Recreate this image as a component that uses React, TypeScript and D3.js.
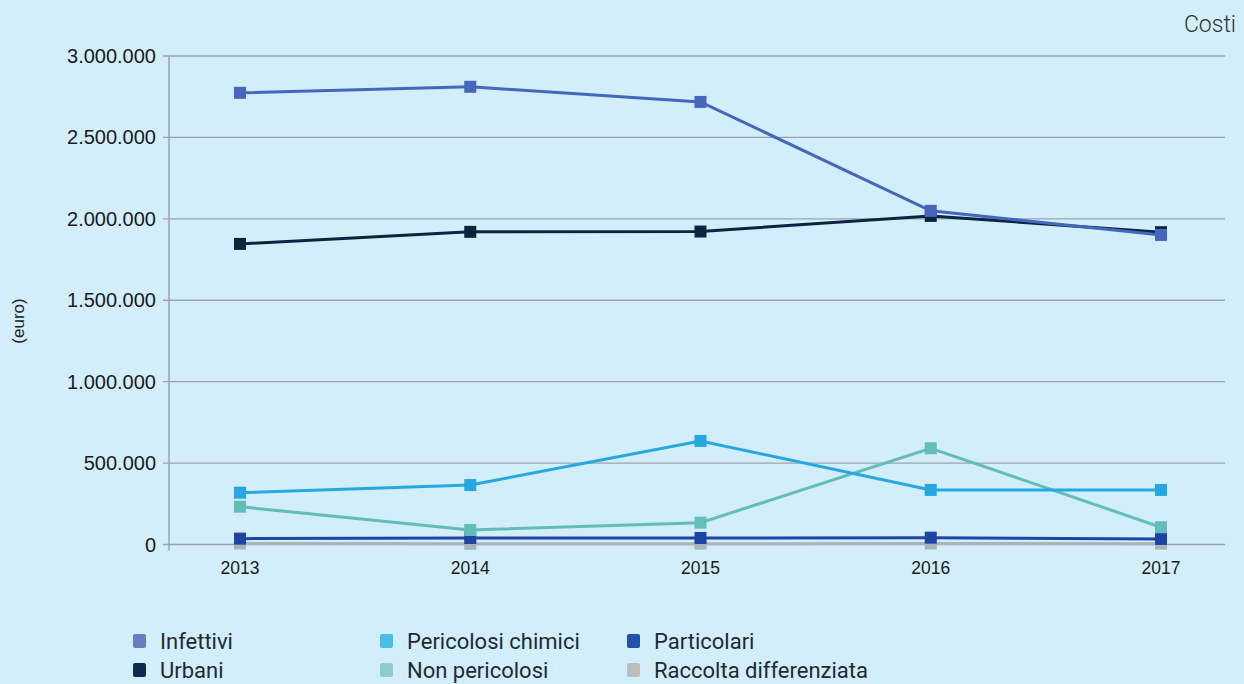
import React from "react";
import * as d3 from "d3";

const years = ["2013", "2014", "2015", "2016", "2017"];
const yTicks = [0, 500000, 1000000, 1500000, 2000000, 2500000, 3000000];

const infettivi = [2774000, 2811000, 2718000, 2049000, 1901000];
const urbani = [1846000, 1920000, 1922000, 2018000, 1918000];
const pericolosiChimici = [318000, 365000, 636000, 335000, 335000];
const nonPericolosi = [232000, 89000, 134000, 591000, 106000];
const particolari = [36000, 40000, 40000, 42000, 34000];
const raccoltaDifferenziata = [6000, 4000, 5000, 6000, 5000];

const series = [
  { name: "Raccolta differenziata", values: raccoltaDifferenziata, color: "#a9b4ba", legend: "#bdbdbd" },
  { name: "Particolari", values: particolari, color: "#1e45a3", legend: "#2350a8" },
  { name: "Non pericolosi", values: nonPericolosi, color: "#63bdbb", legend: "#8ecbc9" },
  { name: "Pericolosi chimici", values: pericolosiChimici, color: "#27a7e2", legend: "#4bbbe9" },
  { name: "Urbani", values: urbani, color: "#0b2440", legend: "#0d2c4a" },
  { name: "Infettivi", values: infettivi, color: "#4666bd", legend: "#6a7bc2" },
];

const fmt = (v: number) => d3.format(",")(v).replace(/,/g, ".");

export default function App() {
  const W = 1244, H = 684;
  const left = 169, right = 1225, top = 56, bottom = 544.5;
  const x = d3.scalePoint<string>().domain(years).range([240, 1161]);
  const y = d3.scaleLinear().domain([0, 3000000]).range([bottom, top]);
  const line = d3.line<number>().x((_, i) => x(years[i])!).y((d) => y(d));

  const legendCols = [138, 385, 632];
  const legendRows = [641, 670];
  const legendLayout = [
    ["Infettivi", 0, 0], ["Urbani", 0, 1],
    ["Pericolosi chimici", 1, 0], ["Non pericolosi", 1, 1],
    ["Particolari", 2, 0], ["Raccolta differenziata", 2, 1],
  ] as [string, number, number][];

  return (
    <svg width={W} height={H} style={{ display: "block", position: "absolute", left: 0, top: 0 }}>
      <rect x={0} y={0} width={W} height={H} fill="#d2eefa" />
      <text x={1236} y={32} textAnchor="end" fontFamily="Roboto" fontWeight={300} fontSize={23} fill="#333">Costi</text>
      <text transform="translate(24,321) rotate(-90)" textAnchor="middle" fontFamily="Liberation Sans" fontSize={17} fill="#222">(euro)</text>
      {yTicks.map((t) => (
        <g key={t}>
          <line x1={163} x2={right} y1={y(t)} y2={y(t)} stroke="#9aa5aa" strokeWidth={1.3} />
          <text x={156} y={y(t) + 7} textAnchor="end" fontFamily="Liberation Sans" fontSize={20} fill="#1a1a1a">{fmt(t)}</text>
        </g>
      ))}
      <line x1={left} x2={left} y1={top} y2={bottom + 6} stroke="#9aa5aa" strokeWidth={1.5} />
      {years.map((yr) => (
        <text key={yr} x={x(yr)!} y={574} textAnchor="middle" fontFamily="Liberation Sans" fontSize={17.5} fill="#1a1a1a">{yr}</text>
      ))}
      {series.map((s) => (
        <g key={s.name}>
          <path d={line(s.values)!} fill="none" stroke={s.color} strokeWidth={3} />
          {s.values.map((v, i) => (
            <rect key={i} x={x(years[i])! - 6} y={y(v) - 6} width={12} height={12} fill={s.color} />
          ))}
        </g>
      ))}
      {legendLayout.map(([name, c, r]) => {
        const s = series.find((d) => d.name === name)!;
        return (
          <g key={name}>
            <rect x={legendCols[c] - 5} y={legendRows[r] - 7} width={13} height={14} rx={2} fill={s.legend} />
            <text x={legendCols[c] + 22} y={legendRows[r] + 8} fontFamily="Roboto" fontSize={22} fill="#1f2a33">{name}</text>
          </g>
        );
      })}
    </svg>
  );
}
